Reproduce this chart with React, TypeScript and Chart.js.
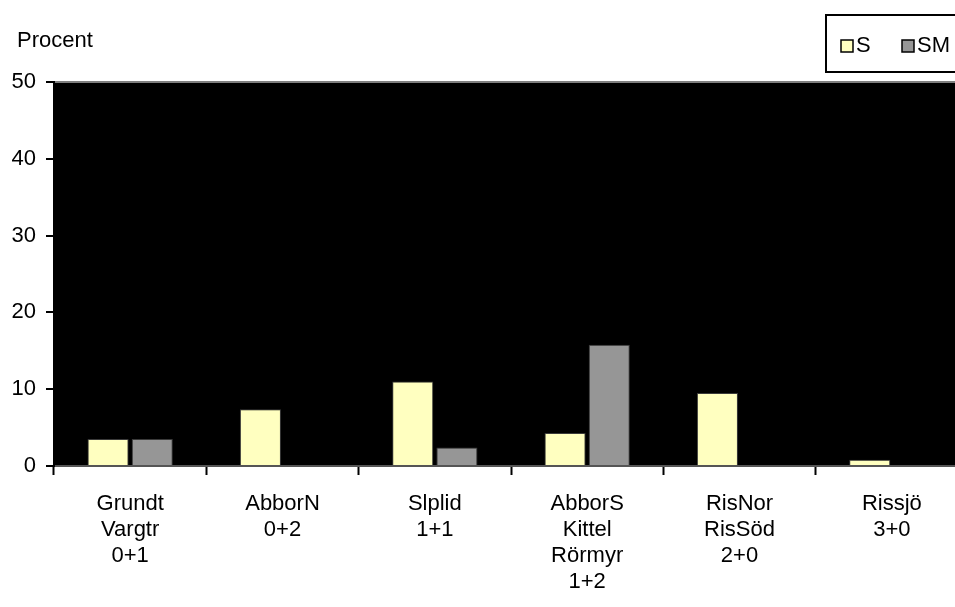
import React, { useEffect, useRef } from "react";
import { Chart, registerables } from "chart.js";

Chart.register(...registerables);

const categories: string[][] = [
  ["Grundt", "Vargtr", "0+1"],
  ["AbborN", "0+2"],
  ["Slplid", "1+1"],
  ["AbborS", "Kittel", "Rörmyr", "1+2"],
  ["RisNor", "RisSöd", "2+0"],
  ["Rissjö", "3+0"],
];
const seriesS: (number | null)[] = [3.5, 7.4, 11.0, 4.3, 9.5, 0.8];
const seriesSM: (number | null)[] = [3.5, null, 2.4, 15.8, null, null];
const yTicks: number[] = [0, 10, 20, 30, 40, 50];
const yTitle = "Procent";
const legendLabels = ["S", "SM"];
const colorS = "#FFFFC0";
const colorSM = "#969696";

const FONT = "Arial, 'Liberation Sans', sans-serif";
const FS = 22;

const decorPlugin = {
  id: "decor",
  beforeDraw(chart: any) {
    const { ctx, chartArea } = chart;
    ctx.save();
    ctx.fillStyle = "#000000";
    ctx.fillRect(chartArea.left, chartArea.top, chartArea.right - chartArea.left, chartArea.bottom - chartArea.top);
    ctx.restore();
  },
  afterDraw(chart: any) {
    const { ctx } = chart;
    ctx.save();
    // y title
    ctx.fillStyle = "#000";
    ctx.font = `${FS}px ${FONT}`;
    ctx.textBaseline = "middle";
    ctx.textAlign = "left";
    ctx.fillText(yTitle, 17, 41);
    // legend box
    ctx.fillStyle = "#fff";
    ctx.fillRect(826, 15, 200, 57);
    ctx.strokeStyle = "#000";
    ctx.lineWidth = 2;
    ctx.strokeRect(826, 15, 200, 57);
    const items = [
      { label: legendLabels[0], color: colorS, x: 841 },
      { label: legendLabels[1], color: colorSM, x: 902 },
    ];
    items.forEach((it) => {
      ctx.fillStyle = it.color;
      ctx.fillRect(it.x, 40, 12, 12);
      ctx.strokeStyle = "#000";
      ctx.lineWidth = 1.5;
      ctx.strokeRect(it.x, 40, 12, 12);
      ctx.fillStyle = "#000";
      ctx.font = `${FS}px ${FONT}`;
      ctx.textBaseline = "middle";
      ctx.fillText(it.label, it.x + 15, 46);
    });
    ctx.restore();
  },
};

export default function App() {
  const ref = useRef<HTMLCanvasElement>(null);
  useEffect(() => {
    if (!ref.current) return;
    const chart = new Chart(ref.current, {
      type: "bar",
      data: {
        labels: categories,
        datasets: [
          {
            label: legendLabels[0],
            data: seriesS,
            backgroundColor: colorS,
            borderColor: "#3a3a3a",
            borderWidth: 1,
            barPercentage: 0.93,
            categoryPercentage: 0.58,
          },
          {
            label: legendLabels[1],
            data: seriesSM,
            backgroundColor: colorSM,
            borderColor: "#3a3a3a",
            borderWidth: 1,
            barPercentage: 0.93,
            categoryPercentage: 0.58,
          },
        ],
      },
      options: {
        responsive: false,
        animation: false,
        layout: { padding: { left: 0, top: 82, right: 7, bottom: 0 } },
        plugins: {
          legend: { display: false },
          tooltip: { enabled: false },
          title: { display: false },
        },
        scales: {
          x: {
            offset: true,
            grid: {
              offset: true,
              drawOnChartArea: false,
              tickLength: 9,
              tickColor: "#000",
              tickWidth: 2,
            },
            border: { color: "#555", width: 2 },
            ticks: {
              color: "#000",
              font: { family: FONT, size: FS, lineHeight: 1.18 },
              padding: 16,
              maxRotation: 0,
              autoSkip: false,
            },
            afterFit: (scale: any) => {
              scale.height = 607 - 466;
            },
          },
          y: {
            min: 0,
            max: 50,
            afterBuildTicks: (scale: any) => {
              scale.ticks = yTicks.map((v) => ({ value: v }));
            },
            grid: {
              color: (c: any) => (c.tick && c.tick.value === 50 ? "#808080" : "rgba(0,0,0,0)"),
              lineWidth: 2,
              tickLength: 8,
              tickColor: "#000",
              tickWidth: 2,
            },
            border: { color: "#000", width: 2 },
            ticks: {
              color: "#000",
              font: { family: FONT, size: FS },
              padding: 10,
            },
            afterFit: (scale: any) => {
              scale.width = 54;
            },
          },
        },
      },
      plugins: [decorPlugin],
    });
    return () => chart.destroy();
  }, []);
  return (
    <div style={{ position: "fixed", left: 0, top: 0, width: 955, height: 607, overflow: "hidden", background: "#fff" }}>
      <canvas ref={ref} width={975} height={607} style={{ display: "block" }} />
    </div>
  );
}
